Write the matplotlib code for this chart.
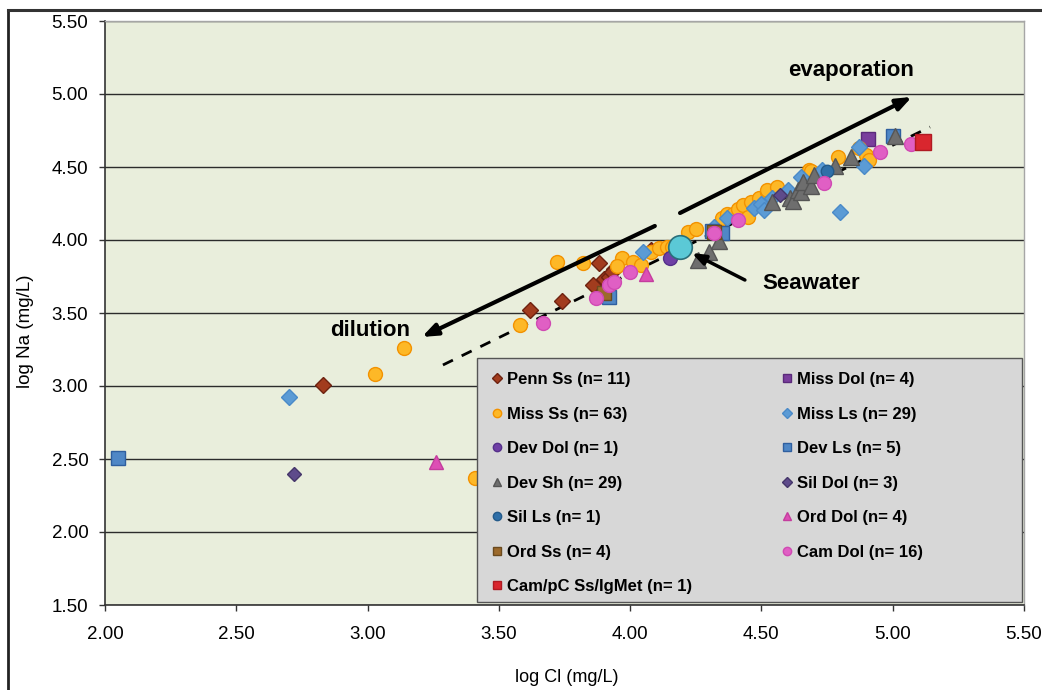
import numpy as np
import matplotlib
matplotlib.use("Agg")
import matplotlib.pyplot as plt
from matplotlib.lines import Line2D
from matplotlib.patches import Rectangle

plt.rcParams["font.family"] = ["Liberation Sans", "DejaVu Sans"]

# ---- data (log Cl, log Na) ----
penn_ss = [(2.83, 3.01), (3.62, 3.52), (3.74, 3.58), (3.88, 3.84), (3.94, 3.80),
           (3.90, 3.73), (3.92, 3.75), (4.08, 3.93), (3.93, 3.78), (3.86, 3.69)]
miss_dol = [(4.905, 4.69)]
miss_ss = [(3.03, 3.08), (3.14, 3.26), (3.41, 2.37), (3.58, 3.42), (3.72, 3.85),
           (3.82, 3.84), (3.97, 3.88), (4.01, 3.85), (3.95, 3.82), (4.04, 3.83),
           (4.08, 3.92), (4.11, 3.945), (4.14, 3.95), (4.16, 3.95), (4.22, 4.055),
           (4.25, 4.075), (4.35, 4.15), (4.37, 4.18), (4.39, 4.18), (4.41, 4.21),
           (4.43, 4.24), (4.45, 4.16), (4.46, 4.26), (4.49, 4.29), (4.52, 4.33),
           (4.52, 4.34), (4.56, 4.36), (4.68, 4.48), (4.69, 4.47), (4.79, 4.57),
           (4.87, 4.63), (4.90, 4.58), (4.91, 4.55)]
miss_ls = [(2.70, 2.925), (4.05, 3.92), (4.32, 4.09), (4.37, 4.15), (4.47, 4.22),
           (4.50, 4.25), (4.51, 4.205), (4.54, 4.29), (4.60, 4.34), (4.65, 4.43),
           (4.73, 4.48), (4.80, 4.19), (4.87, 4.64), (4.89, 4.51)]
dev_dol = [(4.15, 3.88)]
dev_ls = [(2.05, 2.51), (3.92, 3.61), (4.31, 4.06), (4.35, 4.05), (5.00, 4.71)]
dev_sh = [(4.26, 3.86), (4.30, 3.92), (4.34, 3.99), (4.54, 4.26), (4.61, 4.29),
          (4.62, 4.27), (4.64, 4.34), (4.65, 4.33), (4.66, 4.40), (4.69, 4.37),
          (4.70, 4.445), (4.78, 4.51), (4.84, 4.57), (5.01, 4.71)]
sil_dol = [(2.72, 2.40), (4.57, 4.31)]
sil_ls = [(4.75, 4.47)]
ord_dol = [(3.26, 2.48), (4.06, 3.77)]
ord_ss = [(3.90, 3.64), (4.32, 4.055)]
cam_dol = [(3.67, 3.43), (3.87, 3.60), (3.92, 3.69), (3.94, 3.71), (4.00, 3.78),
           (4.32, 4.05), (4.41, 4.14), (4.74, 4.39), (4.95, 4.60), (5.07, 4.66)]
cam_pc = [(5.115, 4.67)]
seawater = (4.19, 3.95)

labels = ["Penn Ss (n= 11)", "Miss Dol (n= 4)", "Miss Ss (n= 63)", "Miss Ls (n= 29)",
          "Dev Dol (n= 1)", "Dev Ls (n= 5)", "Dev Sh (n= 29)", "Sil Dol (n= 3)",
          "Sil Ls (n= 1)", "Ord Dol (n= 4)", "Ord Ss (n= 4)", "Cam Dol (n= 16)",
          "Cam/pC Ss/IgMet (n= 1)"]
series = [penn_ss, miss_dol, miss_ss, miss_ls, dev_dol, dev_ls, dev_sh, sil_dol,
          sil_ls, ord_dol, ord_ss, cam_dol, cam_pc]

# seawater line and arrows (log Cl, log Na)
sw_line_x = [3.287, 5.142]
sw_line_y = [3.144, 4.774]
evap_arrow = [(4.19, 4.185), (5.073, 4.98)]
dil_arrow = [(4.094, 4.096), (3.207, 3.336)]
sw_arrow = [(4.437, 3.726), (4.235, 3.911)]

# ---- styles ----
styles = [
    dict(marker="D", color="#A23C1E", mec="#6E2210", ms=8),
    dict(marker="s", color="#7A3E9D", mec="#5A2A7A", ms=10),
    dict(marker="o", color="#FDB827", mec="#F39200", ms=10),
    dict(marker="D", color="#5B9BD5", mec="#4A8AC8", ms=8),
    dict(marker="o", color="#6F3FA5", mec="#55308A", ms=10),
    dict(marker="s", color="#4F87C6", mec="#2F5F9F", ms=10),
    dict(marker="^", color="#6E6E6E", mec="#555555", ms=11),
    dict(marker="D", color="#5E4B8B", mec="#45366A", ms=7),
    dict(marker="o", color="#2F6FA8", mec="#235A8A", ms=9),
    dict(marker="^", color="#DD4FB5", mec="#C43D9E", ms=10),
    dict(marker="s", color="#9C6A2B", mec="#6B4A1E", ms=10),
    dict(marker="o", color="#E05FC4", mec="#D04AB3", ms=10),
    dict(marker="s", color="#D9262E", mec="#B01A22", ms=11),
]

fig = plt.figure(figsize=(10.42, 6.90), dpi=100)
ax = fig.add_axes([105 / 1042, 85 / 690, 919 / 1042, 584 / 690])
ax.set_facecolor("#E9EEDC")

for pts, st in zip(series, styles):
    xs = [p[0] for p in pts]
    ys = [p[1] for p in pts]
    ax.plot(xs, ys, linestyle="none", marker=st["marker"], color=st["color"],
            mec=st["mec"], mew=1.0, ms=st["ms"], zorder=3)

# dashed seawater-evaporation line
ax.plot(sw_line_x, sw_line_y, color="black", lw=2, linestyle=(0, (4, 3.5)), zorder=2.5)

ax.plot([seawater[0]], [seawater[1]], "o", color="#5BC9D6", mec="#2A6F7A",
        mew=1.2, ms=17, zorder=4)

arrow_kw = dict(arrowstyle="-|>,head_length=0.9,head_width=0.35", color="black", lw=3,
                shrinkA=0, shrinkB=0)
for (x0, y0), (x1, y1) in [evap_arrow, dil_arrow]:
    ax.annotate("", xy=(x1, y1), xytext=(x0, y0), arrowprops=arrow_kw, zorder=4)
ax.annotate("", xy=sw_arrow[1], xytext=sw_arrow[0],
            arrowprops=dict(arrowstyle="-|>,head_length=0.8,head_width=0.3",
                            color="black", lw=2.5, shrinkA=0, shrinkB=0), zorder=4)

ax.text(4.84, 5.16, "evaporation", fontsize=16, fontweight="bold", ha="center", va="center")
ax.text(3.01, 3.38, "dilution", fontsize=16, fontweight="bold", ha="center", va="center")
ax.text(4.69, 3.705, "Seawater", fontsize=16, fontweight="bold", ha="center", va="center")

ax.set_xlim(2.0, 5.5)
ax.set_ylim(1.5, 5.5)
ax.set_xticks(np.arange(2.0, 5.51, 0.5))
ax.set_yticks(np.arange(1.5, 5.51, 0.5))
ax.xaxis.set_major_formatter(plt.FormatStrFormatter("%.2f"))
ax.yaxis.set_major_formatter(plt.FormatStrFormatter("%.2f"))
ax.tick_params(axis="both", direction="out", length=4, width=1, color="#333333",
               labelsize=13.5)
ax.tick_params(axis="x", pad=11)
ax.tick_params(axis="y", pad=8)
ax.grid(axis="y", color="#2B2B2B", lw=1)
ax.set_axisbelow(True)
for s in ["left", "bottom"]:
    ax.spines[s].set_color("#333333")
    ax.spines[s].set_linewidth(1.2)
for s in ["top", "right"]:
    ax.spines[s].set_color("#A6A6A6")
    ax.spines[s].set_linewidth(1.0)

# legend box
ax.add_patch(Rectangle((0.405, 0.005), 0.593, 0.418, transform=ax.transAxes,
                       facecolor="#D7D7D7", edgecolor="#555555", lw=1.0, zorder=5))
handles = [Line2D([], [], linestyle="none", marker=st["marker"], color=st["color"],
                  mec=st["mec"], ms=6 if st["marker"] != "D" else 5)
           for st in styles]
order = [0, 2, 4, 6, 8, 10, 12, 1, 3, 5, 7, 9, 11]
leg = ax.legend([handles[i] for i in order], [labels[i] for i in order], ncol=2,
                loc="upper left", bbox_to_anchor=(0.4137, 0.41), frameon=False,
                prop=dict(weight="bold", size=12), labelspacing=1.17,
                handlelength=0.6, handletextpad=0.3, columnspacing=5.4,
                borderaxespad=0)
leg.set_zorder(6)

fig.text(567 / 1042, 1 - 678 / 690, "log Cl (mg/L)", fontsize=13, ha="center", va="center")
fig.text(25 / 1042, 1 - 331 / 690, "log Na (mg/L)", fontsize=13.5, ha="center",
         va="center", rotation=90)

# outer chart frame
fig.add_artist(Line2D([8 / 1042, 8 / 1042], [0, 1 - 10 / 690], color="#222222", lw=2,
                      transform=fig.transFigure))
fig.add_artist(Line2D([8 / 1042, 1], [1 - 10 / 690, 1 - 10 / 690], color="#333333",
                      lw=2.2, transform=fig.transFigure))

fig.savefig("out.png", dpi=100)
